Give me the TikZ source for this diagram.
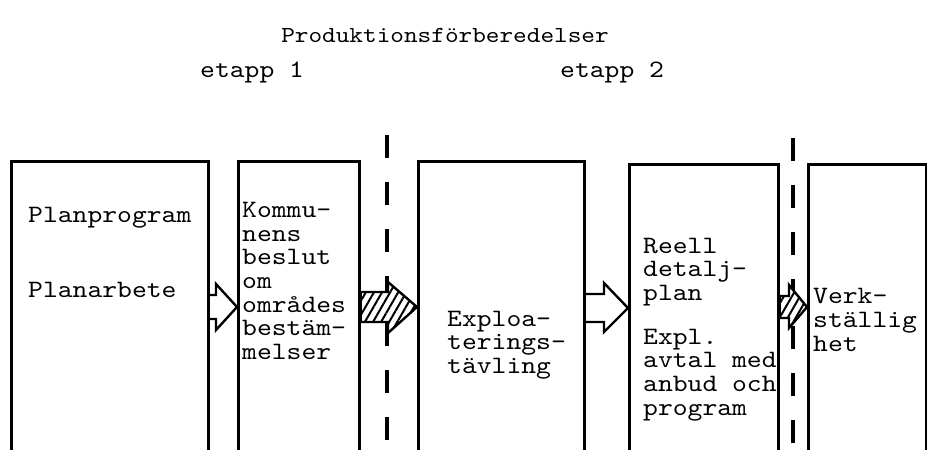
\documentclass[tikz,border=0pt]{standalone}
\usepackage{fontspec}
\usetikzlibrary{positioning, calc, patterns.meta}
\newfontfamily\typeface{lmmono10-regular.otf}[FakeStretch=1.13]
\newcommand\typewriter{\typeface\fontsize{25}{23.6}\selectfont\lineskiplimit=-50pt\relax}

\begin{document}
\begin{tikzpicture}[x=1pt, y=-1pt,
    phase/.style={rectangle, draw, line width=2.6pt, anchor=north west, inner sep=0pt,
      minimum height=330pt},
    typed/.style={font=\typewriter, align=left, inner sep=0pt},
    stagebar/.style={line width=4pt, dash pattern=on 23pt off 24pt},
    openarrow/.style={line width=2.4pt, line join=miter},
    hatcharrow/.style={line width=2.4pt, line join=miter, preaction={fill=white},
      pattern={Lines[angle=60, distance=7pt, line width=2pt]}}
  ]
  \clip (0,0) rectangle (927,450);
  % Headings
  \node[typed, font=\typewriter\fontsize{23}{23.6}\selectfont] (title) at (445,35) {Produktionsförberedelser};
  \node[typed, anchor=west] (etapp1) at (200,72) {etapp 1};
  \node[typed, anchor=west] (etapp2) at (560,72) {etapp 2};
  % Phase boxes (open at the bottom edge)
  \node[phase, minimum width=197pt] (box1) at (10,160) {};
  \node[phase, minimum width=121pt] (box2) at (237,160) {};
  \node[phase, minimum width=166pt] (box3) at (417,160) {};
  \node[phase, minimum width=149pt] (box4) at (628,163) {};
  \node[phase, minimum width=118pt] (box5) at (807,163) {};
  % Stage borders
  \draw[stagebar] (387,135) -- (387,460);
  \draw[stagebar] (793,138) -- (793,460);
  % Box texts
  \node[typed, anchor=west] (plan1) at (28,218) {Planprogram};
  \node[typed, anchor=west] (plan2) at (28,290) {Planarbete};
  \node[typed, anchor=west] (beslut) at (242,281) {Kommu-\\nens\\beslut\\om\\områdes\\bestäm-\\melser};
  \node[typed, anchor=west] (tavling) at (447,345) {Exploa-\\terings-\\tävling};
  \node[typed, anchor=west] (detalj) at (643,272) {Reell\\detalj-\\plan};
  \node[typed, anchor=west] (avtal) at (643,375) {Expl.\\avtal med\\anbud och\\program};
  \node[typed, anchor=west] (verk) at (813,320) {Verk-\\ställig\\het};
  % Arrows between phases
  \draw[openarrow] (box1.east |- 0,295) -- (216,295) -- (216,284) -- (box2.west |- 0,307)
    -- (216,330) -- (216,319) -- (box1.east |- 0,319);
  \draw[hatcharrow] (box2.east |- 0,292) -- (388,292) -- (388,282) -- (box3.west |- 0,307)
    -- (388,333) -- (388,322) -- (box2.east |- 0,322) -- cycle;
  \draw[openarrow] (box3.east |- 0,294) -- (604,294) -- (604,283) -- (box4.west |- 0,308)
    -- (604,332) -- (604,322) -- (box3.east |- 0,322);
  \draw[hatcharrow] (box4.east |- 0,296) -- (789,296) -- (789,285) -- (box5.west |- 0,307)
    -- (789,328) -- (789,318) -- (box4.east |- 0,318) -- cycle;
\end{tikzpicture}
\end{document}
